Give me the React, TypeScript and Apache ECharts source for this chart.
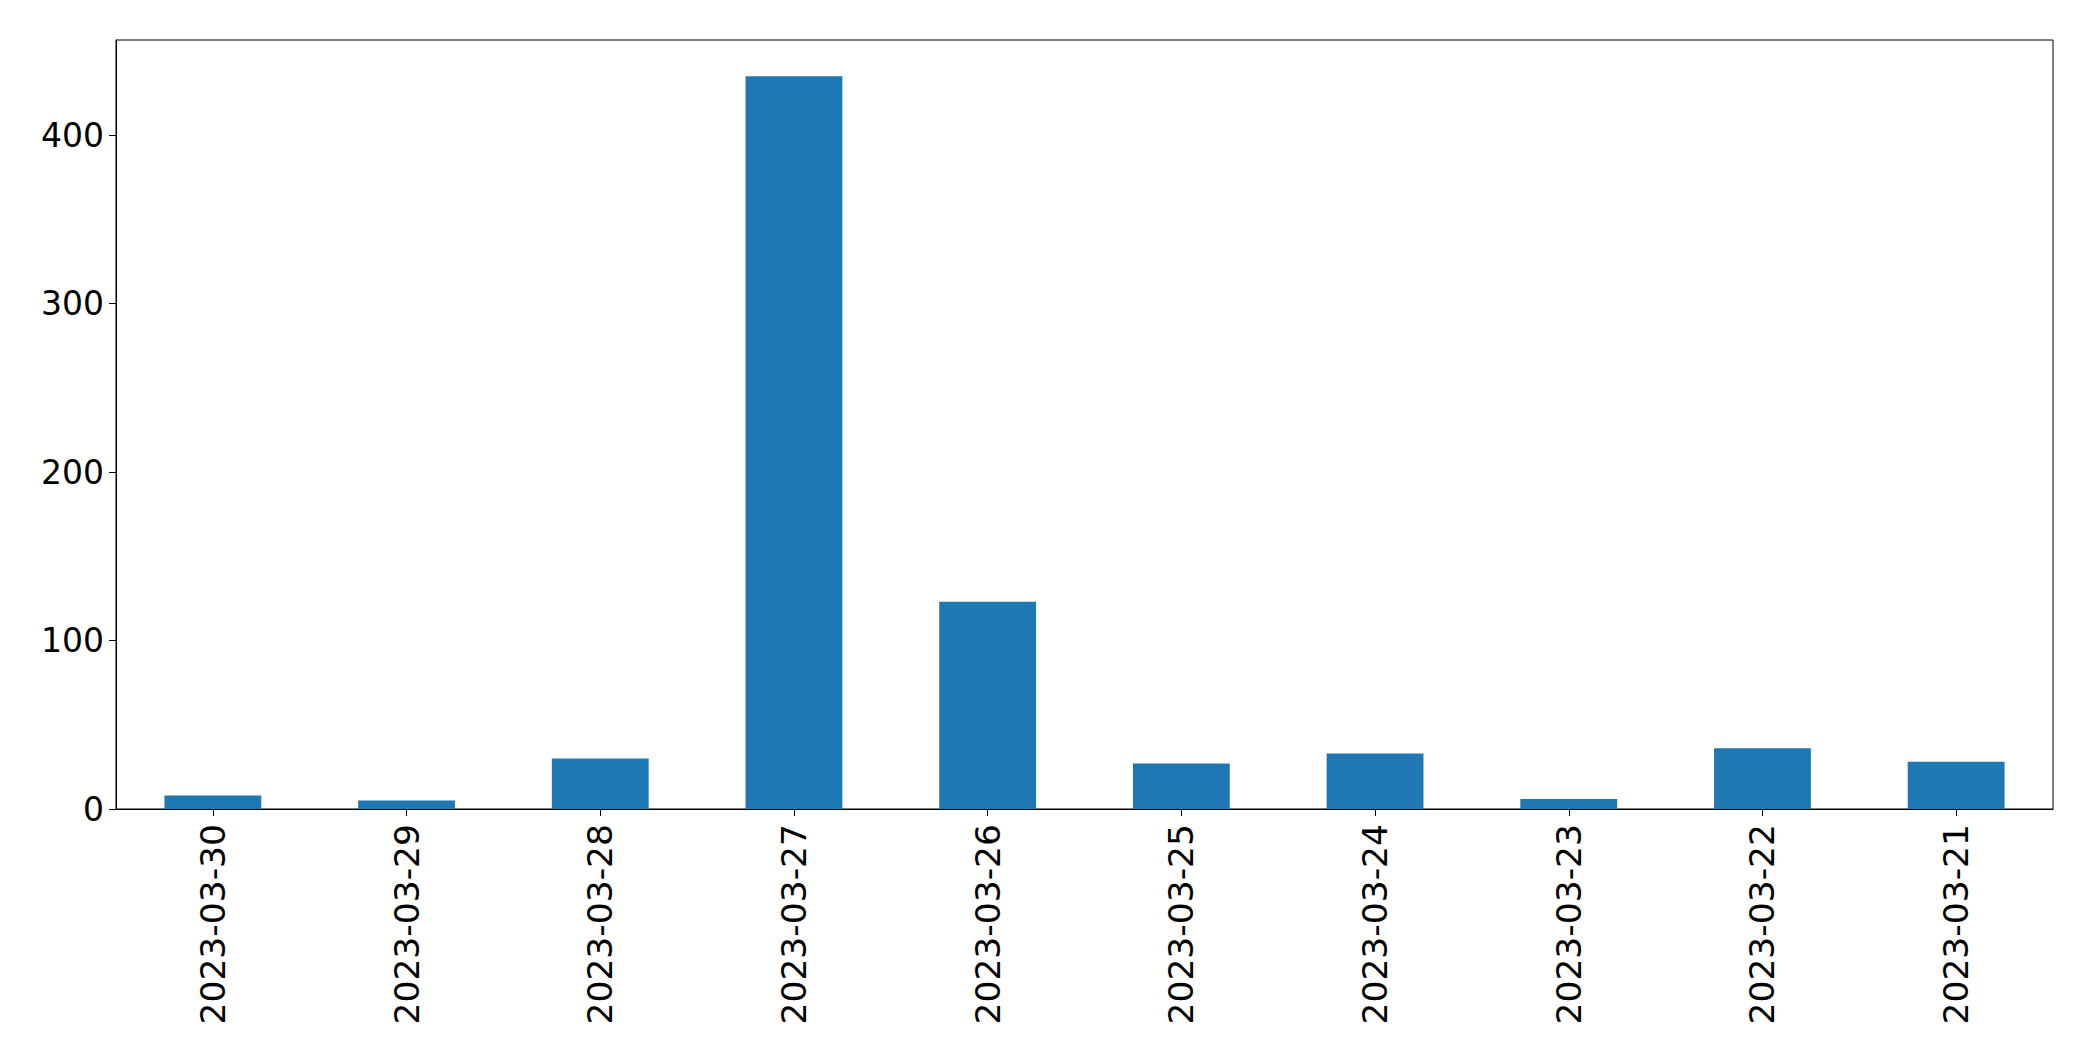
import React, { useEffect, useRef } from "react";
import * as echarts from "echarts";

const categories = [
  "2023-03-30",
  "2023-03-29",
  "2023-03-28",
  "2023-03-27",
  "2023-03-26",
  "2023-03-25",
  "2023-03-24",
  "2023-03-23",
  "2023-03-22",
  "2023-03-21",
];
const values = [8, 5, 30, 435, 123, 27, 33, 6, 36, 28];
const yTicks = [0, 100, 200, 300, 400];

export default function App() {
  const ref = useRef<HTMLDivElement>(null);
  useEffect(() => {
    if (!ref.current) return;
    const chart = echarts.init(ref.current, null, { renderer: "svg" });
    const font = "DejaVu Sans";
    chart.setOption({
      animation: false,
      backgroundColor: "#ffffff",
      grid: {
        left: 116,
        top: 40,
        width: 1937,
        height: 769,
        show: true,
        borderColor: "#000000",
        borderWidth: 1,
        backgroundColor: "transparent",
      },
      xAxis: {
        type: "category",
        data: categories,
        axisLine: { show: true, lineStyle: { color: "#000", width: 1 } },
        axisTick: { show: true, alignWithLabel: true, length: 7, lineStyle: { color: "#000", width: 1 } },
        axisLabel: {
          rotate: 90,
          margin: 15,
          color: "#000",
          fontFamily: font,
          fontSize: 34.5,
          interval: 0,
        },
        splitLine: { show: false },
      },
      yAxis: {
        type: "value",
        min: 0,
        max: 456.5,
        interval: 100,
        axisLine: { show: true, lineStyle: { color: "#000", width: 1 } },
        axisTick: { show: true, length: 7, lineStyle: { color: "#000", width: 1 }, customValues: yTicks },
        axisLabel: {
          margin: 12,
          color: "#000",
          fontFamily: font,
          fontSize: 33,
          customValues: yTicks,
        },
        splitLine: { show: false },
      },
      series: [
        {
          type: "bar",
          data: values,
          barWidth: "50%",
          itemStyle: { color: "#1f77b4" },
        },
      ],
    });
    return () => chart.dispose();
  }, []);
  return (
    <div
      ref={ref}
      style={{ position: "fixed", left: 0, top: 0, width: 2093, height: 1061, background: "#fff" }}
    />
  );
}
